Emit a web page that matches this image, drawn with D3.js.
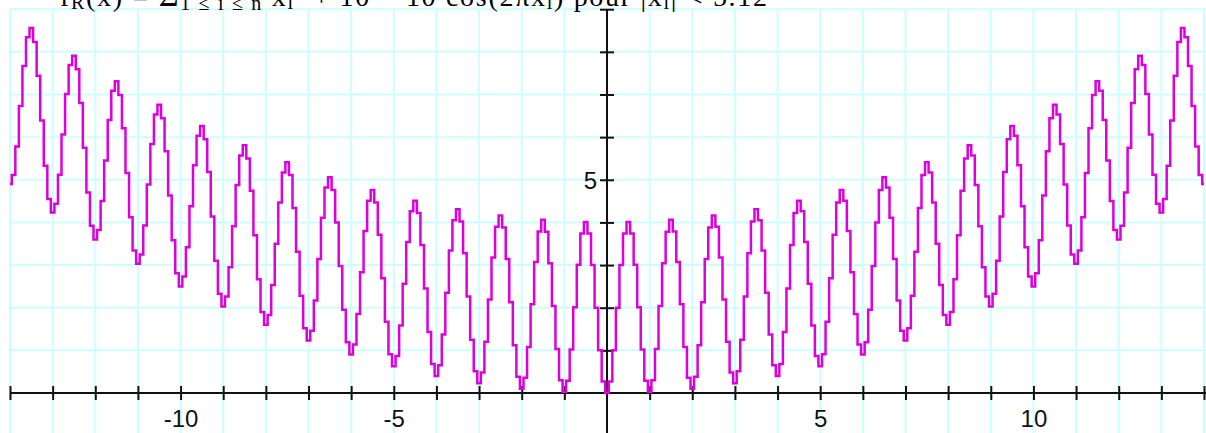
<!DOCTYPE html>
<html>
<head>
<meta charset="utf-8">
<script src="https://cdn.jsdelivr.net/npm/d3@7"></script>
<style>
  html, body { margin: 0; padding: 0; background: #fff; }
  svg { display: block; }
</style>
</head>
<body>
<div id="chart"></div>
<script>
// valeurs de la courbe, x = -14 .. 14 par pas de 1/12
const yValues = [
  4.90, 5.11, 5.78, 6.73, 7.67, 8.34, 8.56, 8.23, 7.44, 6.39, 5.33, 4.55,
  4.23, 4.44, 5.12, 6.06, 7.01, 7.69, 7.91, 7.59, 6.80, 5.75, 4.70, 3.92,
  3.60, 3.82, 4.50, 5.45, 6.40, 7.09, 7.31, 6.99, 6.21, 5.16, 4.12, 3.34,
  3.03, 3.25, 3.93, 4.89, 5.84, 6.53, 6.76, 6.44, 5.67, 4.63, 3.58, 2.81,
  2.50, 2.73, 3.42, 4.38, 5.34, 6.03, 6.26, 5.95, 5.18, 4.14, 3.10, 2.33,
  2.03, 2.26, 2.95, 3.91, 4.88, 5.57, 5.81, 5.50, 4.74, 3.70, 2.67, 1.90,
  1.60, 1.83, 2.53, 3.50, 4.47, 5.17, 5.41, 5.11, 4.34, 3.31, 2.28, 1.52,
  1.23, 1.46, 2.17, 3.14, 4.11, 4.82, 5.06, 4.76, 4.00, 2.98, 1.95, 1.19,
  0.90, 1.14, 1.85, 2.83, 3.80, 4.51, 4.76, 4.47, 3.71, 2.69, 1.67, 0.91,
  0.63, 0.87, 1.58, 2.56, 3.54, 4.26, 4.51, 4.22, 3.47, 2.45, 1.43, 0.68,
  0.40, 0.65, 1.37, 2.35, 3.34, 4.05, 4.31, 4.02, 3.28, 2.26, 1.25, 0.51,
  0.23, 0.48, 1.20, 2.19, 3.18, 3.90, 4.16, 3.88, 3.14, 2.13, 1.12, 0.38,
  0.10, 0.36, 1.08, 2.08, 3.07, 3.79, 4.06, 3.78, 3.04, 2.04, 1.03, 0.30,
  0.03, 0.29, 1.02, 2.01, 3.01, 3.74, 4.01, 3.74, 3.00, 2.00, 1.00, 0.27,
  0.00,
  0.27, 1.00, 2.00, 3.00, 3.74, 4.01, 3.74, 3.01, 2.01, 1.02, 0.29, 0.03,
  0.30, 1.03, 2.04, 3.04, 3.78, 4.06, 3.79, 3.07, 2.08, 1.08, 0.36, 0.10,
  0.38, 1.12, 2.13, 3.14, 3.88, 4.16, 3.90, 3.18, 2.19, 1.20, 0.48, 0.23,
  0.51, 1.25, 2.26, 3.28, 4.02, 4.31, 4.05, 3.34, 2.35, 1.37, 0.65, 0.40,
  0.68, 1.43, 2.45, 3.47, 4.22, 4.51, 4.26, 3.54, 2.56, 1.58, 0.87, 0.63,
  0.91, 1.67, 2.69, 3.71, 4.47, 4.76, 4.51, 3.80, 2.83, 1.85, 1.14, 0.90,
  1.19, 1.95, 2.98, 4.00, 4.76, 5.06, 4.82, 4.11, 3.14, 2.17, 1.46, 1.23,
  1.52, 2.28, 3.31, 4.34, 5.11, 5.41, 5.17, 4.47, 3.50, 2.53, 1.83, 1.60,
  1.90, 2.67, 3.70, 4.74, 5.50, 5.81, 5.57, 4.88, 3.91, 2.95, 2.26, 2.03,
  2.33, 3.10, 4.14, 5.18, 5.95, 6.26, 6.03, 5.34, 4.38, 3.42, 2.73, 2.50,
  2.81, 3.58, 4.63, 5.67, 6.44, 6.76, 6.53, 5.84, 4.89, 3.93, 3.25, 3.03,
  3.34, 4.12, 5.16, 6.21, 6.99, 7.31, 7.09, 6.40, 5.45, 4.50, 3.82, 3.60,
  3.92, 4.70, 5.75, 6.80, 7.59, 7.91, 7.69, 7.01, 6.06, 5.12, 4.44, 4.23,
  4.55, 5.33, 6.39, 7.44, 8.23, 8.56, 8.34, 7.67, 6.73, 5.78, 5.11, 4.90
];
const xStart = -14, xStep = 1 / 12;

const xTicks = [-14,-13,-12,-11,-10,-9,-8,-7,-6,-5,-4,-3,-2,-1,1,2,3,4,5,6,7,8,9,10,11,12,13,14];
const xLabels = [-10, -5, 5, 10];
const yTicks = [1, 2, 3, 4, 5, 6, 7, 8, 9];
const yLabels = [5];
const gridX = d3.range(-14, 15);
const gridY = d3.range(-1, 10);

const width = 1206, height = 433;

const svg = d3.select("#chart").append("svg")
    .attr("width", width)
    .attr("height", height);

const x = d3.scaleLinear().domain([-14, 14]).range([10, 1204]);
const y = d3.scaleLinear().domain([0, 9]).range([393, 9.2]);

// GRILLE
const grid = svg.append("g").attr("stroke", "#ccffff").attr("stroke-width", 2);
grid.selectAll("line.gx").data(gridX).enter().append("line")
    .attr("x1", d => x(d)).attr("x2", d => x(d))
    .attr("y1", y(9)).attr("y2", height);
grid.selectAll("line.gy").data(gridY).enter().append("line")
    .attr("x1", x(-14)).attr("x2", width)
    .attr("y1", d => y(d)).attr("y2", d => y(d));

// TITRE (coupé en haut)
const title = svg.append("text")
    .attr("x", 60).attr("y", 6)
    .attr("font-family", "Liberation Serif, Times New Roman, serif")
    .attr("font-size", 28)
    .attr("fill", "#000")
    .attr("textLength", 707)
    .attr("lengthAdjust", "spacing");
title.append("tspan").text("f");
title.append("tspan").attr("dy", 3).attr("font-size", 20).text("R");
title.append("tspan").attr("dy", -3).text("(x) = ");
title.append("tspan").attr("font-size", 34).text("Σ");
title.append("tspan").attr("dy", 4).attr("font-size", 20).text("1 ≤ i ≤ n");
title.append("tspan").attr("dy", -4).text(" x");
title.append("tspan").attr("dy", 3).attr("font-size", 20).text("i");
title.append("tspan").attr("dy", -3).text("² + 10 − 10 cos(2πx");
title.append("tspan").attr("dy", 3).attr("font-size", 20).text("i");
title.append("tspan").attr("dy", -3).text(") pour |x");
title.append("tspan").attr("dy", 3).attr("font-size", 20).text("i");
title.append("tspan").attr("dy", -3).text("| < 5.12");

// AXE X
const xAxis = d3.axisBottom(x)
    .tickValues(xTicks)
    .tickSizeInner(7)
    .tickSizeOuter(0)
    .tickFormat(d => xLabels.includes(d) ? String(d) : "");
const gx = svg.append("g")
    .attr("transform", `translate(0,${y(0)})`)
    .call(xAxis);
gx.select(".domain").attr("stroke", "#111").attr("stroke-width", 2)
    .attr("d", `M${x(-14)},0H${width}`);
gx.selectAll(".tick line").attr("stroke", "#111").attr("stroke-width", 2)
    .attr("y1", -7).attr("y2", 7);
gx.selectAll(".tick text")
    .attr("y", 17)
    .attr("dy", "0.71em")
    .attr("font-family", "Liberation Sans, Arial, sans-serif")
    .attr("font-size", 24)
    .attr("fill", "#111");

// AXE Y
const yAxis = d3.axisLeft(y)
    .tickValues(yTicks)
    .tickSizeInner(7)
    .tickSizeOuter(0)
    .tickFormat(d => yLabels.includes(d) ? String(d) : "");
const gy = svg.append("g")
    .attr("transform", `translate(${x(0)},0)`)
    .call(yAxis);
gy.select(".domain").attr("stroke", "#111").attr("stroke-width", 2)
    .attr("d", `M0,${y(9)}V${height}`);
gy.selectAll(".tick line").attr("stroke", "#111").attr("stroke-width", 2)
    .attr("x1", -7).attr("x2", 7);
gy.selectAll(".tick text")
    .attr("x", -10)
    .attr("dy", "0.36em")
    .attr("font-family", "Liberation Sans, Arial, sans-serif")
    .attr("font-size", 24)
    .attr("fill", "#111");

// COURBE EN ESCALIER
const line = d3.line()
    .x((d, i) => x(xStart + i * xStep))
    .y(d => y(d))
    .curve(d3.curveStep);

svg.append("path")
    .datum(yValues)
    .attr("d", line)
    .attr("fill", "none")
    .attr("stroke", "#dd00dd")
    .attr("stroke-width", 2.5);
</script>
</body>
</html>
